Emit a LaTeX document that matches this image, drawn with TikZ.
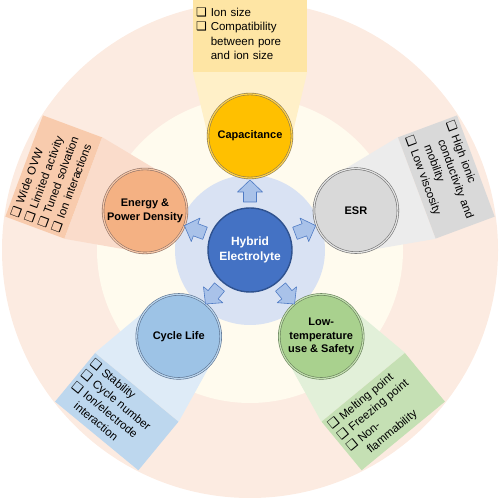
\documentclass[tikz,border=0pt]{standalone}
\usepackage{fontspec}
\setmainfont{Liberation Sans}
\newfontfamily\djv{DejaVu Sans}
\usetikzlibrary{calc}
\newcommand\ck{{\djv\bfseries\fontsize{12}{12}\selectfont ❑}}
\definecolor{peach}{HTML}{FCEBE1}
\definecolor{cream}{HTML}{FFFBEE}
\definecolor{ringblue}{HTML}{D9E2F3}
\definecolor{hubfill}{HTML}{4472C4}
\definecolor{hubdraw}{HTML}{2F528F}
\definecolor{capC}{HTML}{FFC000}
\definecolor{capD}{HTML}{8C7A50}
\definecolor{capBox}{HTML}{FEE5A4}
\definecolor{capBeam}{HTML}{FFF0C8}
\definecolor{epdC}{HTML}{F4B183}
\definecolor{epdD}{HTML}{8F7266}
\definecolor{epdBox}{HTML}{F8CBAD}
\definecolor{epdBeam}{HTML}{FADCCB}
\definecolor{esrC}{HTML}{D9D9D9}
\definecolor{esrD}{HTML}{707070}
\definecolor{esrBox}{HTML}{D9D9D9}
\definecolor{esrBeam}{HTML}{ECECEC}
\definecolor{cycC}{HTML}{9DC3E6}
\definecolor{cycD}{HTML}{5A7190}
\definecolor{cycBox}{HTML}{BDD7EE}
\definecolor{cycBeam}{HTML}{DEEBF7}
\definecolor{ltsC}{HTML}{A9D18E}
\definecolor{ltsD}{HTML}{667F58}
\definecolor{ltsBox}{HTML}{C5E0B4}
\definecolor{ltsBeam}{HTML}{E2F0D9}
\definecolor{arrF}{HTML}{A9C2E9}
\definecolor{arrD}{HTML}{4F7BC4}
\pgfdeclarelayer{bg}
\pgfdeclarelayer{beam}
\pgfsetlayers{bg,beam,main}
\begin{document}
\begin{tikzpicture}[x=1pt,y=1pt,
  sat/.style={circle, minimum size=84pt, inner sep=1pt, align=center,
    font=\bfseries\fontsize{11}{13.5}\selectfont, line width=0.6pt, double distance=1.2pt},
  hubst/.style={circle, minimum size=84pt, inner sep=1pt, align=center, fill=hubfill,
    draw=hubdraw, line width=1.4pt, text=white, font=\bfseries\fontsize{12}{15}\selectfont},
  infobox/.style={rectangle, text width=102pt, minimum height=63pt, inner xsep=3pt, inner ysep=2pt,
    align=left, font=\fontsize{11.5}{14.5}\selectfont},
  arrowst/.style={fill=arrF, draw=arrD, line width=0.6pt, line join=round}]
\useasboundingbox (0,0) rectangle (500,500);
\clip (0,0) rectangle (500,500);
\begin{pgfonlayer}{bg}
\fill[peach] (250,250) circle (248);
\fill[cream] (250,250) circle (153);
\fill[ringblue] (250,250) circle (75);
\end{pgfonlayer}
\node[hubst] (hub) at (250,250) {Hybrid\\Electrolyte};
% boxes
\node[infobox, fill=capBox, text width=108pt, minimum height=74pt] (capbox) at ($(hub)+(90:215)$)
  {\begin{tabular}{@{}l@{\hspace{4pt}}l@{}}\ck & Ion size\\ \ck & Compatibility\\ & between pore\\ & and ion size\end{tabular}};
\node[infobox, fill=epdBox, rotate=69.6] (epdbox) at ($(hub)+(159.6:209.5)$)
  {\begin{tabular}{@{}l@{\hspace{4pt}}l@{}}\ck & Wide OVW\\ \ck & Limited activity\\ \ck & Tuned solvation\\ \ck & Ion interactions\end{tabular}};
\node[infobox, fill=esrBox, rotate=-69.6] (esrbox) at ($(hub)+(20.4:209.5)$)
  {\begin{tabular}{@{}l@{\hspace{4pt}}l@{}}\ck & High ionic\\ & conductivity and\\ & mobility\\ \ck & Low viscosity\end{tabular}};
\node[infobox, fill=cycBox, rotate=-39.5] (cycbox) at ($(hub)+(230.5:209.5)$)
  {\begin{tabular}{@{}l@{\hspace{4pt}}l@{}}\ck & Stability\\ \ck & Cycle number\\ \ck & Ion/electrode\\ & interaction\end{tabular}};
\node[infobox, fill=ltsBox, rotate=39.5] (ltsbox) at ($(hub)+(309.5:209.5)$)
  {\begin{tabular}{@{}l@{\hspace{4pt}}l@{}}\ck & Melting point\\ \ck & Freezing point\\ \ck & Non-\\ & flammability\end{tabular}};
% satellites
\node[sat, fill=capC, draw=capD, double=capC!70!white] (cap) at ($(hub)+(90:114)$) {Capacitance};
\node[sat, fill=epdC, draw=epdD, double=epdC!70!white] (epd) at ($(hub)+(159.6:112)$) {Energy \&\\Power Density};
\node[sat, fill=esrC, draw=esrD, double=esrC!70!white] (esr) at ($(hub)+(20.4:113)$) {ESR};
\node[sat, fill=cycC, draw=cycD, double=cycC!70!white] (cyc) at ($(hub)+(230.5:112)$) {Cycle Life};
\node[sat, fill=ltsC, draw=ltsD, double=ltsC!70!white] (lts) at ($(hub)+(309.5:112)$) {Low-\\temperature\\use \& Safety};
% beams
\begin{pgfonlayer}{beam}
\fill[capBeam] ($(cap)+(180:42)$) -- (capbox.south west) -- (capbox.south east) -- ($(cap)+(0:42)$) -- cycle;
\fill[epdBeam] ($(epd)+(249.6:42)$) -- (epdbox.south west) -- (epdbox.south east) -- ($(epd)+(69.6:42)$) -- cycle;
\fill[esrBeam] ($(esr)+(110.4:42)$) -- (esrbox.south west) -- (esrbox.south east) -- ($(esr)+(-69.6:42)$) -- cycle;
\fill[cycBeam] ($(cyc)+(320.5:42)$) -- (cycbox.north east) -- (cycbox.north west) -- ($(cyc)+(140.5:42)$) -- cycle;
\fill[ltsBeam] ($(lts)+(39.5:42)$) -- (ltsbox.north east) -- (ltsbox.north west) -- ($(lts)+(219.5:42)$) -- cycle;
\end{pgfonlayer}
% arrows
\foreach \a in {90,159.6,20.4,230.5,309.5} {
  \begin{scope}[shift={(hub.center)}, rotate=\a]
    \filldraw[arrowst] (48,-6.5) -- (58,-6.5) -- (58,-12.5) -- (70,0) -- (58,12.5) -- (58,6.5) -- (48,6.5) -- cycle;
  \end{scope}
}
\end{tikzpicture}
\end{document}
